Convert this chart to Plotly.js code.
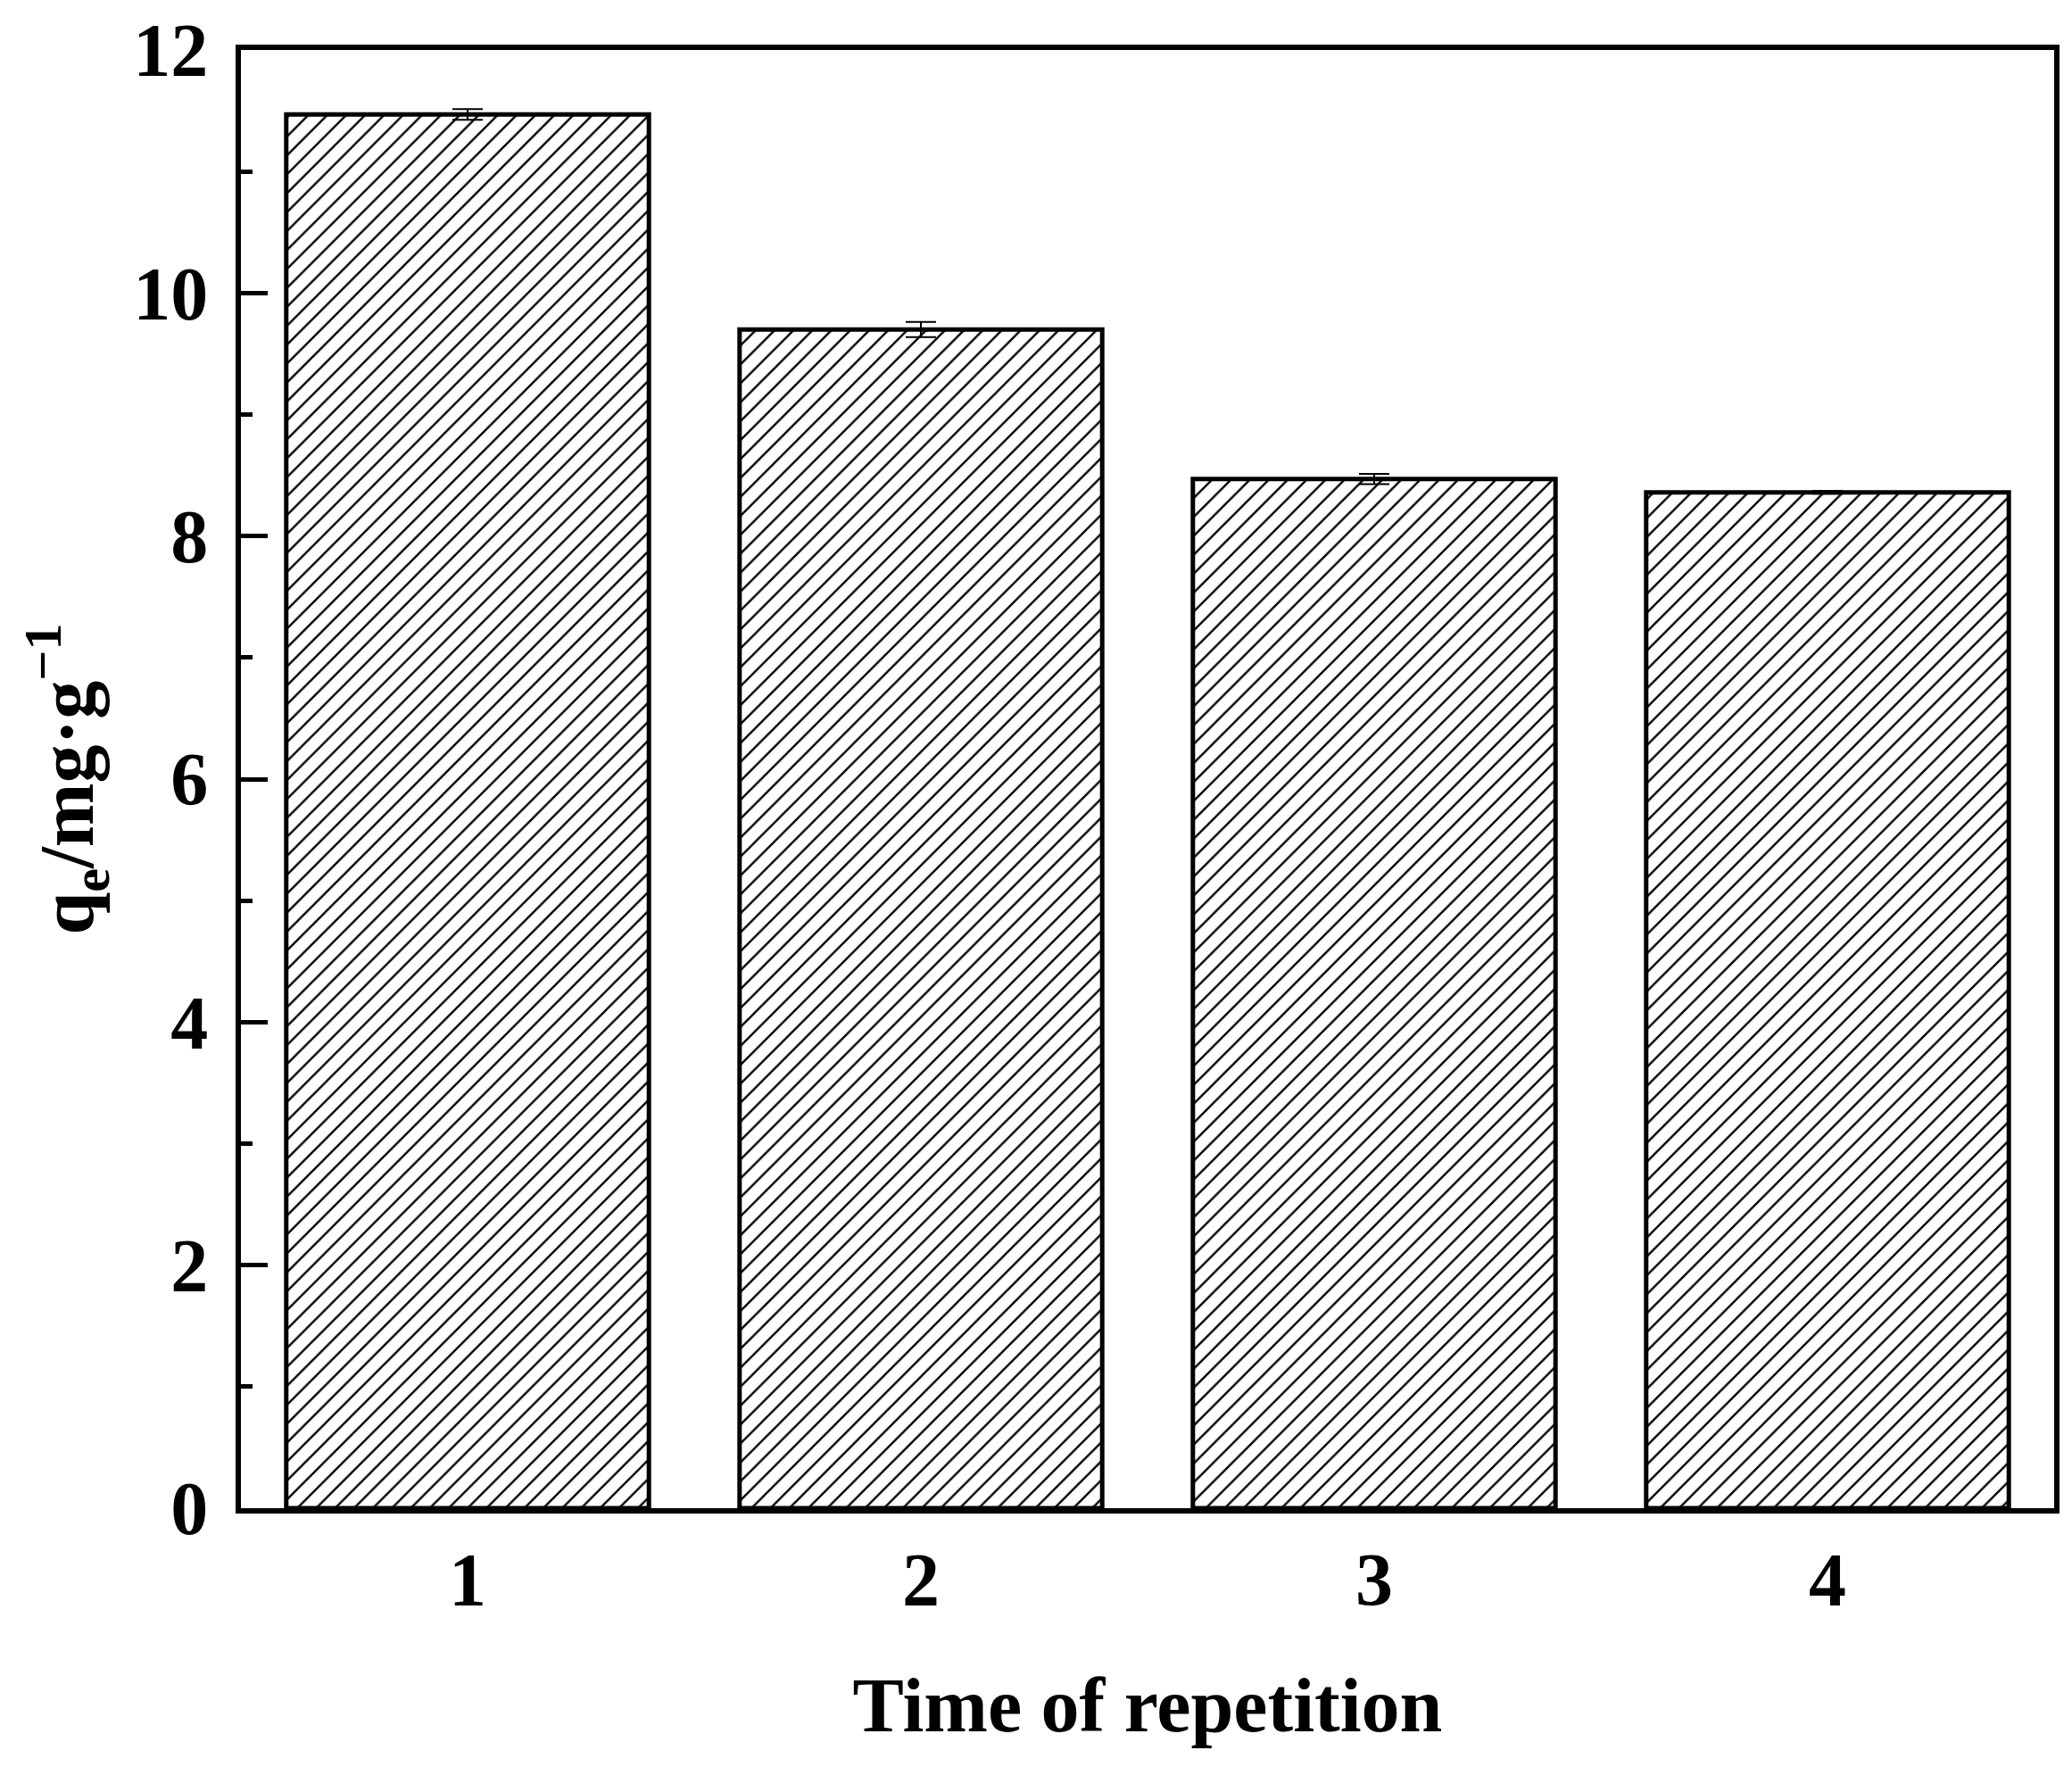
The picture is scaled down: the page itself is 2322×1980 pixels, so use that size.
<!DOCTYPE html>
<html><head><meta charset="utf-8">
<script src="https://cdn.plot.ly/plotly-3.0.1.min.js"></script>
<style>html,body{margin:0;padding:0;background:#fff}</style>
</head><body>
<div id="chart" style="width:2322px;height:1980px"></div>
<script>
// Data
const repetitions = [1, 2, 3, 4];
const qeValues = [11.47, 9.70, 8.47, 8.36];
const qeErrors = [0.044, 0.062, 0.042, 0.012];
const xTickLabels = ['1', '2', '3', '4'];
const yTickValues = [0, 2, 4, 6, 8, 10, 12];
const xTitle = 'Time of repetition';
const yTitle = 'q<sub>e</sub>/mg·g<sup>−1</sup>';

const FONT = '"Liberation Serif", "Times New Roman", Times, serif';

const trace = {
  type: 'bar',
  x: repetitions,
  y: qeValues,
  width: 0.8,
  marker: {
    color: 'white',
    line: {color: 'black', width: 5},
    pattern: {shape: '/', size: 15, solidity: 0.16, fgcolor: 'black', bgcolor: 'white', fillmode: 'replace'}
  },
  error_y: {type: 'data', array: qeErrors, visible: true, color: 'black', thickness: 2, width: 17},
  hoverinfo: 'none'
};

const layout = {
  width: 2322, height: 1980,
  paper_bgcolor: 'white', plot_bgcolor: 'white',
  margin: {l: 270, r: 20, t: 56, b: 290, pad: 0},
  showlegend: false,
  font: {family: FONT, color: 'black', size: 84, weight: 'bold'},
  xaxis: {
    range: [0.5, 4.5],
    tickvals: repetitions,
    ticktext: xTickLabels,
    ticks: '',
    showgrid: false, zeroline: false,
    showline: true, linecolor: 'black', linewidth: 6, mirror: true,
    tickfont: {family: FONT, size: 84, color: 'black', weight: 'bold'},
    ticklabelstandoff: 2,
    title: {text: xTitle, font: {family: FONT, size: 86, color: 'black', weight: 'bold'}, standoff: 66},
    automargin: false
  },
  yaxis: {
    range: [0, 12],
    tickvals: yTickValues,
    ticks: 'inside', ticklen: 30, tickwidth: 5, tickcolor: 'black',
    minor: {dtick: 1, tick0: 0, ticks: 'inside', ticklen: 13, tickwidth: 5, tickcolor: 'black', showgrid: false},
    showgrid: false, zeroline: false,
    showline: true, linecolor: 'black', linewidth: 6, mirror: true,
    tickfont: {family: FONT, size: 84, color: 'black', weight: 'bold'},
    ticklabelstandoff: 14,
    title: {text: yTitle, font: {family: FONT, size: 86, color: 'black', weight: 'bold'}, standoff: 18},
    automargin: false
  }
};

Plotly.newPlot('chart', [trace], layout, {displayModeBar: false, staticPlot: true});
</script>
</body></html>
